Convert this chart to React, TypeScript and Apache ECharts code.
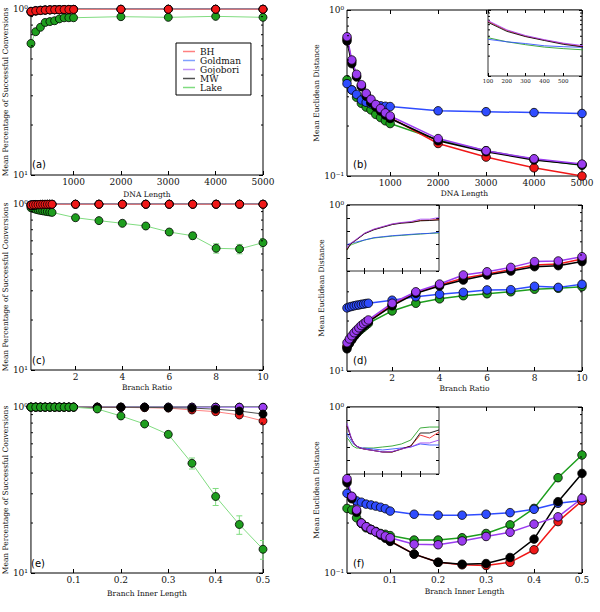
import React, { useEffect, useRef } from 'react';
import * as echarts from 'echarts';

// ---------------- data ----------------
const methods = ['BH', 'Goldman', 'Gojobori', 'MW', 'Lake'];

const dnaLength = [100, 200, 300, 400, 500, 600, 700, 800, 900, 1000, 2000, 3000, 4000, 5000];
const branchRatio = [0.1, 0.2, 0.3, 0.4, 0.5, 0.6, 0.7, 0.8, 0.9, 1, 2, 3, 4, 5, 6, 7, 8, 9, 10];
const innerLength = [0.01, 0.02, 0.03, 0.04, 0.05, 0.06, 0.07, 0.08, 0.09, 0.1, 0.15, 0.2, 0.25, 0.3, 0.35, 0.4, 0.45, 0.5];

const dnaTicks = [1000, 2000, 3000, 4000, 5000];
const ratioTicks = [2, 4, 6, 8, 10];
const innerTicks = [0.1, 0.2, 0.3, 0.4, 0.5];
const insetDnaTicks = [100, 200, 300, 400, 500];
const insetRatioTicks = [2, 4, 6, 8];
const insetInnerTicks = [0.1, 0.2, 0.3, 0.4];
const logMinorTicks = [0.2, 0.3, 0.4, 0.5, 0.6, 0.7, 0.8, 0.9];

const successTitle = 'Mean Percentage of Successful Conversions';
const distanceTitle = 'Mean Euclidean Distance';
const dnaTitle = 'DNA Length';
const ratioTitle = 'Branch Ratio';
const innerTitle = 'Branch Inner Length';
const panelTags = ['(a)', '(b)', '(c)', '(d)', '(e)', '(f)'];

// (a) success vs DNA length
const aBH = [0.965, 0.975, 0.98, 0.985, 0.988, 0.99, 0.99, 0.992, 0.993, 0.994, 0.996, 0.997, 0.997, 0.997];
const aGoldman = [0.97, 0.98, 0.985, 0.99, 0.99, 0.992, 0.993, 0.994, 0.995, 0.995, 0.997, 0.998, 0.998, 0.998];
const aGojobori = [0.965, 0.975, 0.98, 0.985, 0.988, 0.99, 0.99, 0.992, 0.993, 0.994, 0.996, 0.997, 0.997, 0.997];
const aMW = [0.955, 0.97, 0.978, 0.983, 0.986, 0.988, 0.99, 0.991, 0.992, 0.993, 0.995, 0.996, 0.996, 0.996];
const aLake = [0.62, 0.73, 0.776, 0.83, 0.84, 0.85, 0.872, 0.885, 0.886, 0.886, 0.899, 0.891, 0.903, 0.891];
const aLakeErr = [0.03, 0.02, 0.015, 0.012, 0.01, 0.01, 0.01, 0.01, 0.01, 0.01, 0.008, 0.008, 0.008, 0.008];

// (b) distance vs DNA length
const bBH = [0.67, 0.49, 0.4, 0.35, 0.31, 0.28, 0.265, 0.25, 0.235, 0.225, 0.157, 0.13, 0.112, 0.1];
const bGoldman = [0.36, 0.33, 0.31, 0.287, 0.278, 0.272, 0.268, 0.265, 0.263, 0.262, 0.247, 0.244, 0.241, 0.238];
const bGojobori = [0.69, 0.5, 0.41, 0.355, 0.315, 0.29, 0.27, 0.255, 0.24, 0.23, 0.168, 0.142, 0.127, 0.118];
const bMW = [0.65, 0.475, 0.395, 0.345, 0.302, 0.277, 0.26, 0.246, 0.233, 0.222, 0.163, 0.14, 0.125, 0.117];
const bLake = [0.38, 0.33, 0.298, 0.274, 0.26, 0.25, 0.235, 0.225, 0.215, 0.207, 0.165, 0.142, 0.126, 0.116];

// (c) success vs branch ratio
const cBH = [0.985, 0.99, 0.99, 0.992, 0.993, 0.994, 0.995, 0.995, 0.996, 0.996, 0.997, 0.997, 0.997, 0.997, 0.997, 0.997, 0.997, 0.997, 0.997];
const cGoldman = [0.99, 0.992, 0.993, 0.994, 0.995, 0.996, 0.996, 0.997, 0.997, 0.997, 0.998, 0.998, 0.998, 0.998, 0.998, 0.998, 0.998, 0.998, 0.998];
const cGojobori = [0.985, 0.99, 0.99, 0.992, 0.993, 0.994, 0.995, 0.995, 0.996, 0.996, 0.997, 0.997, 0.997, 0.997, 0.997, 0.997, 0.997, 0.997, 0.997];
const cMW = [0.975, 0.98, 0.985, 0.988, 0.99, 0.991, 0.992, 0.993, 0.994, 0.995, 0.996, 0.996, 0.996, 0.996, 0.996, 0.996, 0.996, 0.996, 0.996];
const cLake = [0.95, 0.94, 0.93, 0.922, 0.915, 0.91, 0.905, 0.9, 0.895, 0.89, 0.827, 0.794, 0.765, 0.737, 0.678, 0.644, 0.541, 0.536, 0.585];
const cLakeErr = [0.01, 0.01, 0.01, 0.01, 0.01, 0.01, 0.01, 0.01, 0.01, 0.01, 0.012, 0.015, 0.015, 0.018, 0.025, 0.03, 0.035, 0.035, 0.035];

// (d) distance vs branch ratio
const dBH = [0.14, 0.149, 0.157, 0.165, 0.172, 0.178, 0.184, 0.19, 0.195, 0.2, 0.25, 0.296, 0.33, 0.362, 0.384, 0.408, 0.435, 0.441, 0.473];
const dGoldman = [0.24, 0.243, 0.245, 0.247, 0.249, 0.25, 0.252, 0.253, 0.255, 0.256, 0.267, 0.28, 0.29, 0.298, 0.308, 0.309, 0.324, 0.319, 0.333];
const dGojobori = [0.148, 0.156, 0.163, 0.17, 0.176, 0.182, 0.188, 0.193, 0.198, 0.203, 0.256, 0.3, 0.334, 0.379, 0.396, 0.421, 0.456, 0.46, 0.488];
const dMW = [0.136, 0.146, 0.154, 0.162, 0.169, 0.176, 0.182, 0.188, 0.193, 0.198, 0.247, 0.294, 0.325, 0.353, 0.379, 0.4, 0.425, 0.431, 0.456];
const dLake = [0.14, 0.148, 0.155, 0.162, 0.168, 0.174, 0.179, 0.184, 0.189, 0.194, 0.23, 0.256, 0.272, 0.284, 0.292, 0.3, 0.311, 0.315, 0.322];

// (e) success vs branch inner length
const eBH = [0.998, 0.998, 0.998, 0.998, 0.998, 0.998, 0.998, 0.998, 0.998, 0.998, 0.997, 0.995, 0.99, 0.985, 0.959, 0.937, 0.895, 0.824];
const eGoldman = [0.999, 0.999, 0.999, 0.999, 0.999, 0.999, 0.999, 0.999, 0.999, 0.999, 0.999, 0.999, 0.999, 0.999, 0.998, 0.998, 0.998, 0.997];
const eGojobori = [0.999, 0.999, 0.999, 0.999, 0.999, 0.999, 0.999, 0.999, 0.999, 0.999, 0.999, 0.999, 0.999, 0.998, 0.998, 0.997, 0.996, 0.995];
const eMW = [0.998, 0.998, 0.998, 0.998, 0.998, 0.998, 0.998, 0.998, 0.998, 0.998, 0.997, 0.996, 0.995, 0.99, 0.985, 0.97, 0.946, 0.907];
const eLake = [0.998, 0.998, 0.998, 0.998, 0.998, 0.998, 0.998, 0.998, 0.998, 0.998, 0.973, 0.883, 0.79, 0.684, 0.458, 0.289, 0.196, 0.139];
const eLakeErr = [0.002, 0.002, 0.002, 0.002, 0.002, 0.002, 0.002, 0.002, 0.002, 0.002, 0.005, 0.01, 0.012, 0.03, 0.035, 0.034, 0.025, 0.018];

// (f) distance vs branch inner length
const fBH = [0.36, 0.285, 0.235, 0.2, 0.19, 0.183, 0.177, 0.17, 0.164, 0.156, 0.13, 0.116, 0.112, 0.111, 0.116, 0.138, 0.204, 0.272];
const fGoldman = [0.302, 0.288, 0.272, 0.267, 0.26, 0.257, 0.253, 0.249, 0.244, 0.236, 0.226, 0.223, 0.223, 0.226, 0.231, 0.242, 0.263, 0.273];
const fGojobori = [0.37, 0.29, 0.24, 0.2, 0.19, 0.183, 0.177, 0.172, 0.167, 0.163, 0.149, 0.148, 0.156, 0.166, 0.176, 0.197, 0.218, 0.282];
const fMW = [0.35, 0.28, 0.232, 0.199, 0.19, 0.183, 0.177, 0.169, 0.162, 0.155, 0.13, 0.116, 0.113, 0.114, 0.124, 0.16, 0.269, 0.398];
const fLake = [0.245, 0.24, 0.215, 0.199, 0.187, 0.182, 0.178, 0.173, 0.171, 0.168, 0.158, 0.158, 0.163, 0.173, 0.195, 0.245, 0.375, 0.514];

// inset (d): relative scale 0..1
const insetRatioBH = [0.33, 0.355, 0.375, 0.395, 0.41, 0.425, 0.435, 0.445, 0.455, 0.465, 0.57, 0.63, 0.67, 0.71, 0.73, 0.74, 0.765, 0.77, 0.78];
const insetRatioGoldman = [0.395, 0.405, 0.41, 0.415, 0.42, 0.425, 0.428, 0.43, 0.432, 0.435, 0.47, 0.505, 0.52, 0.535, 0.545, 0.556, 0.565, 0.57, 0.586];
const insetRatioGojobori = [0.35, 0.37, 0.39, 0.405, 0.42, 0.43, 0.44, 0.45, 0.46, 0.47, 0.575, 0.635, 0.675, 0.715, 0.735, 0.75, 0.785, 0.785, 0.81];
const insetRatioMW = [0.32, 0.345, 0.37, 0.39, 0.405, 0.42, 0.43, 0.44, 0.45, 0.46, 0.565, 0.625, 0.665, 0.705, 0.725, 0.735, 0.76, 0.765, 0.773];
const insetRatioLake = [0.32, 0.345, 0.365, 0.38, 0.39, 0.4, 0.405, 0.41, 0.415, 0.42, 0.47, 0.5, 0.515, 0.53, 0.54, 0.55, 0.56, 0.57, 0.576];

// inset (f): relative scale 0..1
const insetInnerBH = [0.716, 0.642, 0.552, 0.493, 0.448, 0.418, 0.403, 0.388, 0.381, 0.373, 0.351, 0.328, 0.328, 0.373, 0.418, 0.582, 0.537, 0.627];
const insetInnerGoldman = [0.612, 0.552, 0.507, 0.463, 0.433, 0.418, 0.403, 0.396, 0.388, 0.388, 0.373, 0.358, 0.373, 0.388, 0.403, 0.448, 0.433, 0.433];
const insetInnerGojobori = [0.757, 0.657, 0.567, 0.493, 0.448, 0.418, 0.403, 0.388, 0.381, 0.373, 0.351, 0.328, 0.336, 0.373, 0.403, 0.463, 0.463, 0.507];
const insetInnerMW = [0.716, 0.642, 0.552, 0.493, 0.448, 0.418, 0.403, 0.388, 0.381, 0.373, 0.351, 0.328, 0.328, 0.373, 0.418, 0.612, 0.612, 0.657];
const insetInnerLake = [0.537, 0.507, 0.463, 0.418, 0.403, 0.388, 0.388, 0.381, 0.381, 0.388, 0.388, 0.403, 0.418, 0.448, 0.507, 0.687, 0.701, 0.701];

// ---------------- styling ----------------
const SERIF = 'DejaVu Serif';
const SANS = 'DejaVu Sans';
const COLORS: Record<string, string> = { BH: '#f01818', Goldman: '#2f4cff', Gojobori: '#9b3cf0', MW: '#000000', Lake: '#1e9e1e' };
const LIGHT: Record<string, string> = { BH: '#ff8080', Goldman: '#80a0ff', Gojobori: '#c090f5', MW: '#505050', Lake: '#80dc80' };
const ORDER_LEFT = ['Lake', 'Goldman', 'Gojobori', 'MW', 'BH'];
const ORDER_E = ['Goldman', 'Gojobori', 'BH', 'MW', 'Lake'];
const ORDER_RIGHT = ['Lake', 'Goldman', 'BH', 'MW', 'Gojobori'];

function buildOption() {
  const grids: any[] = [];
  const xAxes: any[] = [];
  const yAxes: any[] = [];
  const series: any[] = [];

  const panels = [
    { rect: { left: 30, top: 9, width: 233, height: 166 }, x: dnaLength, xMin: 100, xMax: 5000, ticks: dnaTicks, xName: dnaTitle, xGap: 15, yName: successTitle, yGap: 19, bottomLabel: '10¹', light: true, order: ORDER_LEFT,
      vals: { BH: aBH, Goldman: aGoldman, Gojobori: aGojobori, MW: aMW, Lake: aLake }, err: aLakeErr },
    { rect: { left: 347, top: 10, width: 235, height: 166 }, x: dnaLength, xMin: 100, xMax: 5000, ticks: dnaTicks, xName: dnaTitle, xGap: 13, yName: distanceTitle, yGap: 18, bottomLabel: '10⁻¹', light: false, order: ORDER_RIGHT,
      vals: { BH: bBH, Goldman: bGoldman, Gojobori: bGojobori, MW: bMW, Lake: bLake } },
    { rect: { left: 30, top: 204, width: 233, height: 166 }, x: branchRatio, xMin: 0.1, xMax: 10, ticks: ratioTicks, xName: ratioTitle, xGap: 13, yName: successTitle, yGap: 19, bottomLabel: '10¹', light: true, order: ORDER_LEFT,
      vals: { BH: cBH, Goldman: cGoldman, Gojobori: cGojobori, MW: cMW, Lake: cLake }, err: cLakeErr },
    { rect: { left: 347, top: 205, width: 235, height: 166 }, x: branchRatio, xMin: 0.1, xMax: 10, ticks: ratioTicks, xName: ratioTitle, xGap: 13, yName: distanceTitle, yGap: 18, bottomLabel: '10¹', light: false, order: ORDER_RIGHT,
      vals: { BH: dBH, Goldman: dGoldman, Gojobori: dGojobori, MW: dMW, Lake: dLake } },
    { rect: { left: 30, top: 407, width: 233, height: 166 }, x: innerLength, xMin: 0.01, xMax: 0.5, ticks: innerTicks, xName: innerTitle, xGap: 16, yName: successTitle, yGap: 19, bottomLabel: '10¹', light: true, order: ORDER_E,
      vals: { BH: eBH, Goldman: eGoldman, Gojobori: eGojobori, MW: eMW, Lake: eLake }, err: eLakeErr },
    { rect: { left: 347, top: 407, width: 235, height: 166 }, x: innerLength, xMin: 0.01, xMax: 0.5, ticks: innerTicks, xName: innerTitle, xGap: 14, yName: distanceTitle, yGap: 18, bottomLabel: '10⁻¹', light: false, order: ORDER_RIGHT,
      vals: { BH: fBH, Goldman: fGoldman, Gojobori: fGojobori, MW: fMW, Lake: fLake } },
  ];

  const tickStyle = { color: '#000', width: 1 };

  const minorRender = (len: number) => (params: any, api: any) => {
    const cs = params.coordSys;
    const y = api.coord([api.value(0), api.value(1)])[1];
    return {
      type: 'group',
      children: [
        { type: 'line', shape: { x1: cs.x, y1: y, x2: cs.x + len, y2: y }, style: { stroke: '#000', lineWidth: 1 } },
        { type: 'line', shape: { x1: cs.x + cs.width - len, y1: y, x2: cs.x + cs.width, y2: y }, style: { stroke: '#000', lineWidth: 1 } },
      ],
    };
  };

  const errRender = (color: string) => (params: any, api: any) => {
    const x = api.value(0), y = api.value(1), e = api.value(2);
    const hi = api.coord([x, y + e]);
    const lo = api.coord([x, y - e]);
    return {
      type: 'group',
      children: [
        { type: 'line', shape: { x1: hi[0], y1: hi[1], x2: lo[0], y2: lo[1] }, style: { stroke: color, lineWidth: 1 } },
        { type: 'line', shape: { x1: hi[0] - 3, y1: hi[1], x2: hi[0] + 3, y2: hi[1] }, style: { stroke: color, lineWidth: 1 } },
        { type: 'line', shape: { x1: lo[0] - 3, y1: lo[1], x2: lo[0] + 3, y2: lo[1] }, style: { stroke: color, lineWidth: 1 } },
      ],
    };
  };

  panels.forEach((p) => {
    const gi = grids.length;
    grids.push({ ...p.rect, show: true, borderColor: '#000', borderWidth: 1, backgroundColor: '#fff', z: 0 });
    const xi = xAxes.length;
    const xCommon = { gridIndex: gi, type: 'value', min: p.xMin, max: p.xMax, axisLine: { show: false }, splitLine: { show: false } };
    xAxes.push({
      ...xCommon, position: 'bottom',
      axisTick: { inside: true, length: 4, customValues: p.ticks, lineStyle: tickStyle },
      axisLabel: { customValues: p.ticks, margin: 2, fontFamily: SERIF, fontSize: 9, color: '#111', formatter: (v: number) => String(v) },
      name: p.xName, nameLocation: 'middle', nameGap: p.xGap, nameTextStyle: { fontFamily: SERIF, fontSize: 7.5, color: '#111' },
    });
    xAxes.push({ ...xCommon, position: 'top', axisTick: { inside: true, length: 4, customValues: p.ticks, lineStyle: tickStyle }, axisLabel: { show: false, customValues: p.ticks } });
    const yi = yAxes.length;
    const yCommon = { gridIndex: gi, type: 'log', logBase: 10, min: 0.1, max: 1, axisLine: { show: false }, splitLine: { show: false } };
    yAxes.push({
      ...yCommon, position: 'left',
      axisTick: { inside: true, length: 4, lineStyle: tickStyle },
      axisLabel: { margin: 3, fontFamily: SERIF, fontSize: 9, color: '#111', formatter: (v: number) => (v > 0.5 ? '10⁰' : p.bottomLabel) },
      name: p.yName, nameLocation: 'middle', nameGap: p.yGap, nameTextStyle: { fontFamily: SERIF, fontSize: 7.5, color: '#111' },
    });
    yAxes.push({ ...yCommon, position: 'right', axisTick: { inside: true, length: 4, lineStyle: tickStyle }, axisLabel: { show: false } });

    if (p.err) {
      series.push({
        type: 'custom', name: 'Lake error', xAxisIndex: xi, yAxisIndex: yi, z: 1, silent: true, clip: true,
        data: p.x.map((x, i) => [x, (p.vals as any).Lake[i], p.err![i]]),
        encode: { x: 0, y: 1 },
        renderItem: errRender(LIGHT.Lake),
      });
    }
    p.order.forEach((m) => {
      series.push({
        type: 'line', name: m, xAxisIndex: xi, yAxisIndex: yi, z: 3,
        data: p.x.map((x, i) => [x, (p.vals as any)[m][i]]),
        symbol: 'circle', symbolSize: p.light ? 8 : 8.5,
        lineStyle: { color: p.light ? LIGHT[m] : COLORS[m], width: p.light ? 1 : 1.5 },
        itemStyle: { color: COLORS[m], borderColor: '#000', borderWidth: 0.8 },
        emphasis: { disabled: true },
      });
    });
    series.push({
      type: 'custom', name: 'minor ticks', xAxisIndex: xi, yAxisIndex: yi, z: 4, silent: true,
      data: logMinorTicks.map((v) => [p.xMin, v]), encode: { x: 0, y: 1 },
      renderItem: minorRender(2),
    });
  });

  // ---------- insets ----------
  const insets = [
    { rect: { left: 488, top: 10, width: 94, height: 66 }, x: dnaLength, xMin: 100, xMax: 600, ticks: insetDnaTicks, labels: true, log: true,
      vals: { BH: bBH, Goldman: bGoldman, Gojobori: bGojobori, MW: bMW, Lake: bLake } },
    { rect: { left: 347, top: 205, width: 92, height: 66 }, x: branchRatio, xMin: 0.1, xMax: 10, ticks: insetRatioTicks, labels: false, log: false,
      vals: { BH: insetRatioBH, Goldman: insetRatioGoldman, Gojobori: insetRatioGojobori, MW: insetRatioMW, Lake: insetRatioLake } },
    { rect: { left: 347, top: 407, width: 92, height: 67 }, x: innerLength, xMin: 0.01, xMax: 0.5, ticks: insetInnerTicks, labels: false, log: false,
      vals: { BH: insetInnerBH, Goldman: insetInnerGoldman, Gojobori: insetInnerGojobori, MW: insetInnerMW, Lake: insetInnerLake } },
  ];

  insets.forEach((p) => {
    const gi = grids.length;
    grids.push({ ...p.rect, show: true, borderColor: '#333', borderWidth: 1, backgroundColor: '#fff', z: 10 });
    const xi = xAxes.length;
    const xCommon = { gridIndex: gi, type: 'value', min: p.xMin, max: p.xMax, axisLine: { show: false }, splitLine: { show: false }, z: 11 };
    xAxes.push({
      ...xCommon, position: 'bottom',
      axisTick: { inside: true, length: 3, customValues: p.ticks, lineStyle: tickStyle },
      axisLabel: { show: p.labels, customValues: p.ticks, margin: 2, fontFamily: SERIF, fontSize: 5.5, color: '#111', formatter: (v: number) => String(v) },
    });
    xAxes.push({ ...xCommon, position: 'top', axisTick: { inside: true, length: 3, customValues: p.ticks, lineStyle: tickStyle }, axisLabel: { show: false, customValues: p.ticks } });
    const yi = yAxes.length;
    const yCommon: any = p.log
      ? { gridIndex: gi, type: 'log', logBase: 10, min: 0.1, max: 1, axisLine: { show: false }, splitLine: { show: false }, z: 11 }
      : { gridIndex: gi, type: 'value', min: 0, max: 1, interval: 0.2, axisLine: { show: false }, splitLine: { show: false }, z: 11 };
    yAxes.push({ ...yCommon, position: 'left', axisTick: { inside: true, length: 3, lineStyle: tickStyle }, axisLabel: { show: false } });
    yAxes.push({ ...yCommon, position: 'right', axisTick: { inside: true, length: 3, lineStyle: tickStyle }, axisLabel: { show: false } });
    ORDER_RIGHT.forEach((m) => {
      series.push({
        type: 'line', name: m, xAxisIndex: xi, yAxisIndex: yi, z: 12,
        data: p.x.map((x, i) => [x, (p.vals as any)[m][i]]),
        symbol: 'none', clip: true,
        lineStyle: { color: COLORS[m], width: 1, opacity: 0.85 },
        itemStyle: { color: COLORS[m] },
        emphasis: { disabled: true },
      });
    });
    if (p.log) {
      series.push({
        type: 'custom', name: 'minor ticks', xAxisIndex: xi, yAxisIndex: yi, z: 12, silent: true,
        data: logMinorTicks.map((v) => [p.xMin, v]), encode: { x: 0, y: 1 },
        renderItem: minorRender(2),
      });
    }
  });

  const tagPos = [
    { x: 32, y: 164 }, { x: 353, y: 164 },
    { x: 32, y: 360 }, { x: 353, y: 360 },
    { x: 31, y: 563 }, { x: 353, y: 563 },
  ];

  return {
    animation: false,
    backgroundColor: '#fff',
    grid: grids,
    xAxis: xAxes,
    yAxis: yAxes,
    series,
    legend: {
      left: 176, top: 43, orient: 'vertical', itemGap: 0, itemWidth: 12, itemHeight: 1.5,
      backgroundColor: '#fff', borderColor: '#000', borderWidth: 1, padding: [4, 10, 3, 7], z: 20,
      selectedMode: false,
      textStyle: { fontFamily: SERIF, fontSize: 9, lineHeight: 9, color: '#111' },
      data: methods.map((m) => ({ name: m, icon: 'rect', itemStyle: { color: LIGHT[m], borderWidth: 0 } })),
    },
    graphic: panelTags.map((t, i) => ({
      type: 'text', x: tagPos[i].x, y: tagPos[i].y, z: 30,
      style: { text: t, fontFamily: SANS, fontSize: 10, fill: '#000', verticalAlign: 'middle' },
    })),
  };
}

export default function App() {
  const ref = useRef<HTMLDivElement>(null);
  useEffect(() => {
    document.body.style.margin = '0';
    const chart = echarts.init(ref.current!, undefined, { renderer: 'svg' });
    chart.setOption(buildOption() as any);
    return () => chart.dispose();
  }, []);
  return <div ref={ref} style={{ width: 600, height: 612, position: 'absolute', left: 0, top: 0 }} />;
}
